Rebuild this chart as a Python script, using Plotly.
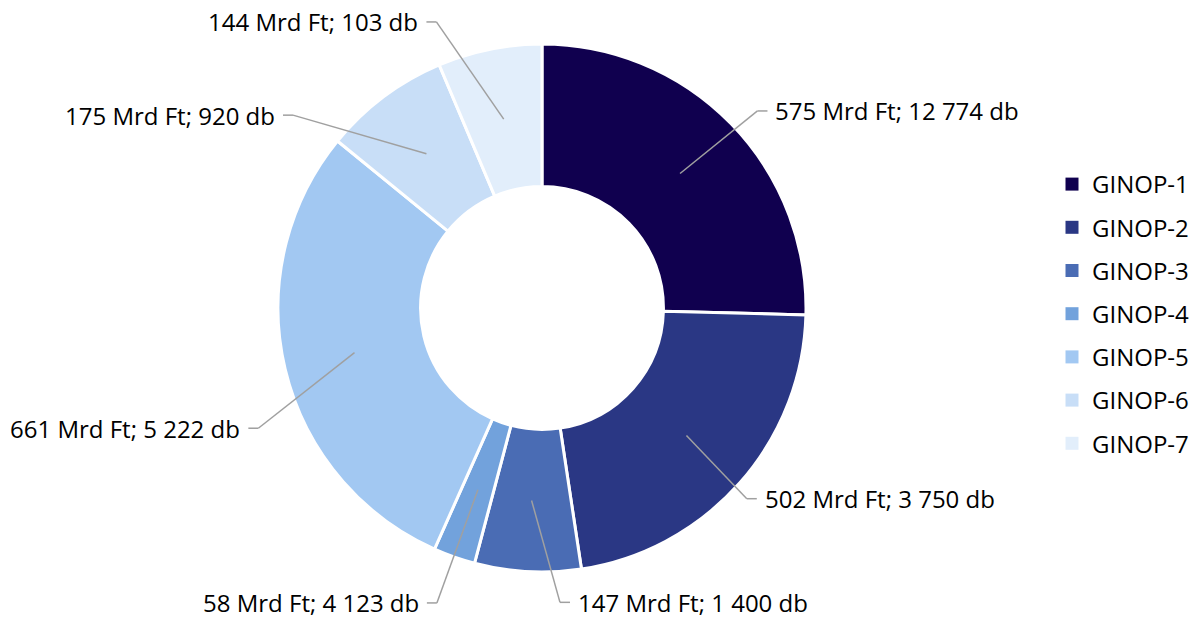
import math
import plotly.graph_objects as go

# ---- data ----
categories = ["GINOP-1", "GINOP-2", "GINOP-3", "GINOP-4", "GINOP-5", "GINOP-6", "GINOP-7"]
amount_mrd_ft = [575, 502, 147, 58, 661, 175, 144]
count_db = ["12 774", "3 750", "1 400", "4 123", "5 222", "920", "103"]
colors = ["#10004F", "#2A3784", "#4A6CB4", "#72A2DC", "#A2C8F2", "#C8DEF7", "#E2EEFB"]

# ---- layout constants (pixels) ----
W, H = 1199, 621
cx, cy, R = 542, 308, 264
hole = 0.46
# label placement (style): radius factor and angular nudge per label
label_rf = [1.106, 1.06, 1.117, 1.186, 1.167, 1.193, 1.155]
label_dang = [1.8, 1.5, -6.6, 0.2, -9.6, -15.4, -8.8]
FONT = "Open Sans"


def px(x):
    return x / W


def py(y):
    return 1 - y / H


fig = go.Figure()
fig.add_trace(go.Pie(
    labels=categories,
    values=amount_mrd_ft,
    sort=False,
    direction="clockwise",
    rotation=0,
    hole=hole,
    textinfo="none",
    marker=dict(colors=colors, line=dict(color="white", width=3)),
    domain=dict(x=[px(cx - R), px(cx + R)], y=[py(cy + R), py(cy - R)]),
    showlegend=False,
    hoverinfo="label+value",
))

# legend entries (square markers)
for cat, col in zip(categories, colors):
    fig.add_trace(go.Scatter(
        x=[None], y=[None], mode="markers", name=cat, legendgroup=cat,
        marker=dict(symbol="square", size=13, color=col), showlegend=True,
    ))

# leader lines and labels, derived from slice angles
total = sum(amount_mrd_ft)
cum = 0
shapes = []
annotations = []
r_mid = R * (1 + hole) / 2
for i, v in enumerate(amount_mrd_ft):
    mid = (cum + v / 2) / total * 360
    cum += v
    a = math.radians(mid)
    x0, y0 = cx + r_mid * math.sin(a), cy - r_mid * math.cos(a)
    b = math.radians(mid + label_dang[i])
    ex, ey = cx + label_rf[i] * R * math.sin(b), cy - label_rf[i] * R * math.cos(b)
    side = 1 if ex > cx else -1
    hx = ex + side * 10
    line = dict(color="#A0A0A0", width=1.5)
    shapes.append(dict(type="line", xref="paper", yref="paper",
                       x0=px(x0), y0=py(y0), x1=px(ex), y1=py(ey), line=line))
    shapes.append(dict(type="line", xref="paper", yref="paper",
                       x0=px(ex), y0=py(ey), x1=px(hx), y1=py(ey), line=line))
    annotations.append(dict(
        x=px(hx + side * 6), y=py(ey), xref="paper", yref="paper",
        text=f"{v} Mrd Ft; {count_db[i]} db", showarrow=False,
        xanchor="left" if side > 0 else "right", yanchor="middle",
        font=dict(family=FONT, size=24, color="#000000"),
    ))

fig.update_layout(
    width=W, height=H,
    margin=dict(l=0, r=0, t=0, b=0),
    paper_bgcolor="white", plot_bgcolor="white",
    xaxis=dict(visible=False), yaxis=dict(visible=False),
    shapes=shapes, annotations=annotations,
    legend=dict(x=px(1052), xanchor="left", y=py(162), yanchor="top",
                font=dict(family=FONT, size=24, color="#000000"),
                tracegroupgap=9, bgcolor="rgba(0,0,0,0)"),
)

fig.write_html("out.html", config={"displayModeBar": False},
               post_script="document.body.style.margin='0';document.body.style.overflow='hidden';")
